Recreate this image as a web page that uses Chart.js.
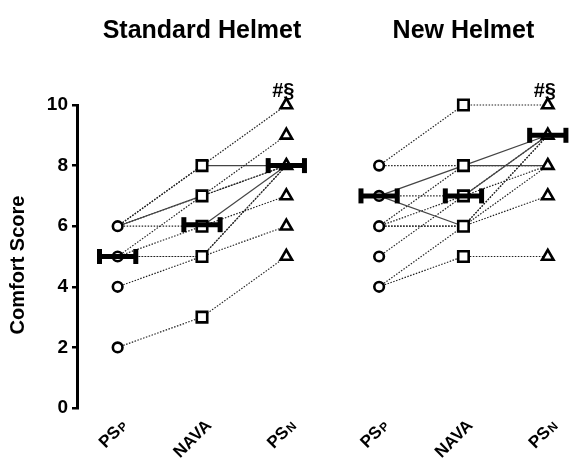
<!DOCTYPE html>
<html>
<head>
<meta charset="utf-8">
<script src="https://cdn.jsdelivr.net/npm/chart.js@4.4.1/dist/chart.umd.min.js"></script>
<style>
    html, body { margin: 0; padding: 0; background: #fff; }
    #wrap { width: 578px; height: 458px; }
</style>
</head>
<body>
<div id="wrap"><canvas id="chart" width="578" height="458"></canvas></div>
<script>
/* ==========================================================================
   DATA
   ========================================================================== */
const panels = ['Standard Helmet', 'New Helmet'];
const conditionLabels = ['PS', 'NAVA', 'PS'];
const conditionSubs = ['P', '', 'N'];
const standardX = [1, 2, 3];
const newX = [4.1, 5.1, 6.1];
const yTicks = [0, 2, 4, 6, 8, 10];
const yTitle = 'Comfort Score';

// one entry per patient, same order in each array
const standardPSp  = [6, 6, 6, 6, 5, 5, 5, 5, 4, 2, 6];
const standardNAVA = [8, 7, 7, 6, 7, 6, 5, 5, 5, 3, 8];
const standardPSn  = [10, 9, 8, 8, 8, 7, 8, 6, 8, 5, 8];

const newPSp  = [8, 8, 7, 7, 7, 6, 6, 6, 5, 4, 4, 6];
const newNAVA = [10, 8, 8, 7, 6, 8, 7, 6, 7, 6, 5, 6];
const newPSn  = [10, 8, 9, 9, 9, 8, 8, 9, 9, 7, 5, 8];

const standardCentre = [5, 6.05, 8];
const newCentre = [7, 7, 9];
const significance = ['#§', '#§'];

/* ==========================================================================
   STYLE
   ========================================================================== */
const FONT = "'Liberation Sans', Arial, sans-serif";
// d = dotted, s = solid, per segment (PSp->NAVA, NAVA->PSn)
const standardSeg = ['dd', 'sd', 'dd', 'ds', 'dd', 'dd', 'dd', 'dd', 'dd', 'dd', 'ds'];
const newSeg = ['dd', 'ds', 'ss', 'ds', 'sd', 'dd', 'dd', 'dd', 'dd', 'dd', 'dd', 'dd'];
const shapes = ['circle', 'rect', 'triangle'];
const shapeRadius = [4.8, 7.4, 6.6];

function patientSets(xs, a, b, c, seg) {
    return a.map((v, i) => ({
        data: [{ x: xs[0], y: v }, { x: xs[1], y: b[i] }, { x: xs[2], y: c[i] }],
        borderColor: '#222',
        borderWidth: 1.2,
        borderDash: [1.5, 1.5],
        pointRadius: 0,
        tension: 0,
        clip: false,
        order: 3,
        segment: {
            borderDash: ctx => seg[i][ctx.p0DataIndex] === 's' ? [] : [1.5, 1.5],
            borderColor: ctx => seg[i][ctx.p0DataIndex] === 's' ? '#444' : '#222',
        }
    }));
}

function markerSet(xs, cols) {
    const seen = new Set();
    const pts = [];
    cols.forEach((col, j) => col.forEach(v => {
        const key = j + '|' + v;
        if (!seen.has(key)) { seen.add(key); pts.push({ x: xs[j], y: v, k: j }); }
    }));
    return {
        data: pts,
        showLine: false,
        clip: false,
        order: 2,
        pointStyle: ctx => shapes[ctx.raw ? ctx.raw.k : 0],
        pointRadius: ctx => shapeRadius[ctx.raw ? ctx.raw.k : 0],
        pointBorderWidth: 2.6,
        pointBorderColor: '#000',
        pointBackgroundColor: '#fff'
    };
}

function centreSets(xs, vals) {
    return vals.map((v, j) => ({
        data: [{ x: xs[j] - 0.215, y: v }, { x: xs[j] + 0.215, y: v }],
        borderColor: '#000',
        borderWidth: 5,
        clip: false,
        order: 1,
        pointStyle: 'line',
        pointRotation: 90,
        pointRadius: 7.5,
        pointBorderWidth: 5,
        pointBorderColor: '#000'
    }));
}

const panelX = [standardX, newX];

const textPlugin = {
    id: 'panelText',
    afterDraw(chart) {
        const { ctx, scales: { x } } = chart;
        ctx.save();
        ctx.fillStyle = '#000';
        ctx.textAlign = 'center';
        ctx.textBaseline = 'alphabetic';
        ctx.font = `bold 25px ${FONT}`;
        panels.forEach((t, i) => ctx.fillText(t, x.getPixelForValue(panelX[i][1]), 38));
        ctx.font = `bold 20px ${FONT}`;
        significance.forEach((t, i) => ctx.fillText(t, x.getPixelForValue(panelX[i][2]) - 3, 97));

        // y axis title, sits a little below the axis middle in the reference
        ctx.save();
        ctx.translate(18, 265);
        ctx.rotate(-Math.PI / 2);
        ctx.textBaseline = 'middle';
        ctx.font = `bold 20px ${FONT}`;
        ctx.fillText(yTitle, 0, 0);
        ctx.restore();

        panelX.forEach(xs => xs.forEach((v, j) => {
            const px = x.getPixelForValue(v);
            ctx.save();
            ctx.translate(px + 7, 423);
            ctx.rotate(-Math.PI / 4);
            ctx.textBaseline = 'middle';
            ctx.textAlign = 'left';
            ctx.font = `bold 17px ${FONT}`;
            const w1 = ctx.measureText(conditionLabels[j]).width;
            ctx.font = `bold 12px ${FONT}`;
            const w2 = conditionSubs[j] ? ctx.measureText(conditionSubs[j]).width + 1 : 0;
            ctx.font = `bold 17px ${FONT}`;
            ctx.fillText(conditionLabels[j], -w1 - w2, 0);
            if (conditionSubs[j]) {
                ctx.font = `bold 12px ${FONT}`;
                ctx.fillText(conditionSubs[j], -w2 + 1, 2);
            }
            ctx.restore();
        }));
        ctx.restore();
    }
};

new Chart(document.getElementById('chart').getContext('2d'), {
    type: 'line',
    data: {
        datasets: [
            ...patientSets(standardX, standardPSp, standardNAVA, standardPSn, standardSeg),
            ...patientSets(newX, newPSp, newNAVA, newPSn, newSeg),
            markerSet(standardX, [standardPSp, standardNAVA, standardPSn]),
            markerSet(newX, [newPSp, newNAVA, newPSn]),
            ...centreSets(standardX, standardCentre),
            ...centreSets(newX, newCentre)
        ]
    },
    options: {
        responsive: false,
        animation: false,
        events: [],
        layout: { padding: { top: 105, bottom: 50, left: 0, right: 0 } },
        plugins: { legend: { display: false }, tooltip: { enabled: false } },
        scales: {
            x: { type: 'linear', display: false, min: 0.518, max: 6.31 },
            y: {
                min: 0, max: 10,
                afterFit: s => { s.width = 77; },
                afterBuildTicks: s => { s.ticks = yTicks.map(v => ({ value: v })); },
                ticks: { color: '#000', padding: 4, font: { family: FONT, size: 19, weight: 'bold' } },
                grid: { drawOnChartArea: false, drawTicks: true, tickLength: 5, color: '#000', lineWidth: 2.5 },
                border: { color: '#000', width: 3 },
                title: { display: false }
            }
        }
    },
    plugins: [textPlugin]
});
</script>
</body>
</html>
